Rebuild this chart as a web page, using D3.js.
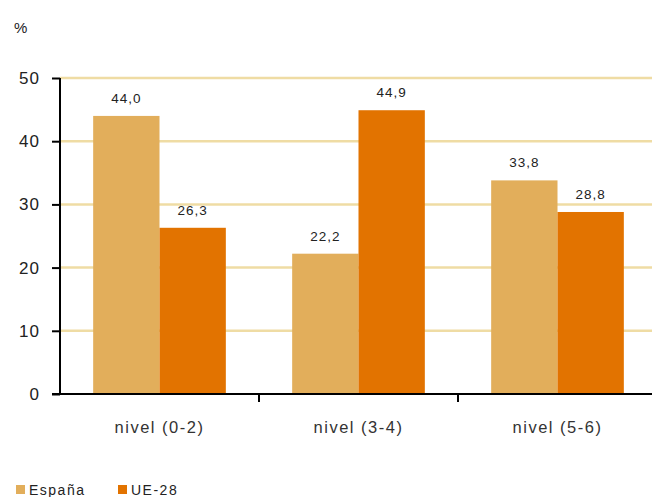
<!DOCTYPE html>
<html>
<head>
<meta charset="utf-8">
<script src="https://cdn.jsdelivr.net/npm/d3@7"></script>
<style>
  html, body { margin: 0; padding: 0; background: #fff; }
  svg { display: block; font-family: Arial, "Liberation Sans", sans-serif; }
</style>
</head>
<body>
<svg id="chart" width="652" height="497"></svg>
<script>
// Niveles de formación: España frente a UE-28 (%)
const categories = ["nivel (0-2)", "nivel (3-4)", "nivel (5-6)"];
const seriesNames = ["España", "UE-28"];
const espana = [44.0, 22.2, 33.8];
const ue28 = [26.3, 44.9, 28.8];
const yTicks = [0, 10, 20, 30, 40, 50];
const colors = ["#e2ae5b", "#e27300"];

const svg = d3.select("#chart");
const margin = { left: 60, right: -5, top: 78, bottom: 103 };
const W = 652, H = 497;
const FONT = "Arial, 'Liberation Sans', sans-serif";

const x = d3.scaleBand().domain(categories).range([margin.left, W - margin.right]).paddingInner(0).paddingOuter(0);
const x1 = d3.scaleBand().domain(seriesNames).range([0, x.bandwidth()]).paddingInner(0).paddingOuter(0.5);
const y = d3.scaleLinear().domain([0, 50]).range([H - margin.bottom, margin.top]);

const fmt = v => d3.format(".1f")(v).replace(".", ",");

// Gridlines
svg.append("g").selectAll("line").data(yTicks.filter(t => t > 0)).join("line")
  .attr("x1", margin.left).attr("x2", W)
  .attr("y1", d => y(d)).attr("y2", d => y(d))
  .attr("stroke", "#efdca4").attr("stroke-width", 2.5);

// Bars
const rows = categories.map((c, i) => ({ cat: c, values: [espana[i], ue28[i]] }));
const groups = svg.append("g").selectAll("g").data(rows).join("g")
  .attr("transform", d => `translate(${x(d.cat)},0)`);

groups.selectAll("rect").data(d => d.values.map((v, j) => ({ name: seriesNames[j], v, j }))).join("rect")
  .attr("x", d => x1(d.name)).attr("width", x1.bandwidth())
  .attr("y", d => y(d.v)).attr("height", d => y(0) - y(d.v))
  .attr("fill", d => colors[d.j]);

groups.selectAll("text.val").data(d => d.values.map((v, j) => ({ name: seriesNames[j], v, j }))).join("text")
  .attr("class", "val")
  .attr("x", d => x1(d.name) + x1.bandwidth() / 2)
  .attr("y", d => y(d.v) - 13)
  .attr("text-anchor", "middle")
  .attr("font-size", 13.5).attr("fill", "#222").attr("letter-spacing", 1)
  .text(d => fmt(d.v));

// Y axis
const yAxis = svg.append("g").attr("transform", `translate(${margin.left},0)`)
  .call(d3.axisLeft(y).tickValues(yTicks).tickSize(8).tickPadding(12).tickFormat(d3.format("d")));
yAxis.select(".domain").attr("stroke", "#000").attr("stroke-width", 2).attr("d", `M0,${y(50)}V${y(0)}`);
yAxis.selectAll(".tick line").attr("stroke", "#000").attr("stroke-width", 2);
yAxis.selectAll(".tick text").attr("font-size", 17).attr("fill", "#222").attr("font-family", FONT).attr("letter-spacing", 1);

// X axis
const xAxis = svg.append("g").attr("transform", `translate(0,${y(0)})`)
  .call(d3.axisBottom(x).tickSize(0).tickPadding(27));
xAxis.select(".domain").remove();
xAxis.append("line").attr("x1", margin.left - 8).attr("x2", W).attr("y1", 0).attr("y2", 0)
  .attr("stroke", "#000").attr("stroke-width", 2);
xAxis.selectAll(".sep").data(categories.slice(1)).join("line")
  .attr("class", "sep")
  .attr("x1", d => x(d)).attr("x2", d => x(d)).attr("y1", 0).attr("y2", 8)
  .attr("stroke", "#000").attr("stroke-width", 2);
xAxis.selectAll(".tick text").attr("font-size", 16.5).attr("fill", "#333").attr("font-family", FONT).attr("letter-spacing", 1.5);

// Unit label
svg.append("text").attr("x", 14).attr("y", 33).attr("font-size", 15).attr("fill", "#222").text("%");

// Legend
const legend = svg.append("g").attr("transform", "translate(16,484)");
const legendX = [0, 102];
seriesNames.forEach((n, i) => {
  legend.append("rect").attr("x", legendX[i]).attr("y", 1).attr("width", 9).attr("height", 9).attr("fill", colors[i]);
  legend.append("text").attr("x", legendX[i] + 13).attr("y", 11).attr("font-size", 14).attr("fill", "#222").attr("letter-spacing", 1.5).text(n);
});
</script>
</body>
</html>
